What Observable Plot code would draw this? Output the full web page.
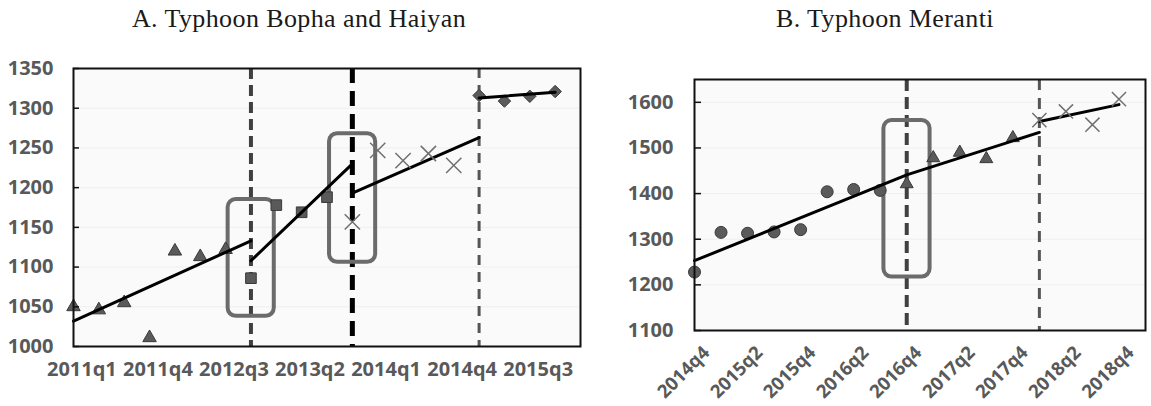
<!DOCTYPE html>
<html><head><meta charset="utf-8">
<script src="https://cdn.jsdelivr.net/npm/d3@7"></script>
<script src="https://cdn.jsdelivr.net/npm/@observablehq/plot@0.6"></script>
<style>
html,body{margin:0;padding:0;background:#fff}
body{width:1151px;height:406px;overflow:hidden;position:relative}
.title{position:absolute;top:4px;line-height:30px;font-family:"Liberation Serif","Times New Roman",serif;font-size:26px;color:#1a1a1a;text-align:center;letter-spacing:0.4px;white-space:nowrap}
#a{position:absolute;left:0;top:40px}
#b{position:absolute;left:600px;top:40px}
</style></head><body>
<div class="title" style="left:0;width:598px">A. Typhoon Bopha and Haiyan</div>
<div class="title" style="left:620px;width:530px">B. Typhoon Meranti</div>
<div id="a"></div><div id="b"></div>
<script>
// ---------- Panel A data ----------
const quartersA = ["2011q1","2011q2","2011q3","2011q4","2012q1","2012q2","2012q3","2012q4",
  "2013q1","2013q2","2013q3","2013q4","2014q1","2014q2","2014q3","2014q4",
  "2015q1","2015q2","2015q3","2015q4"];
const tickLabelsA = ["2011q1","2011q4","2012q3","2013q2","2014q1","2014q4","2015q3"];
const yTicksA = [1000,1050,1100,1150,1200,1250,1300,1350];
const triangleStartA = "2011q1", triangleA = [1050,1046,1055,1011,1120,1113,1122];
const squareStartA = "2012q4", squareA = [1086,1178,1169,1188];
const crossStartA = "2013q4", crossA = [1157,1247,1234,1243,1228];
const diamondStartA = "2015q1", diamondA = [1316,1309,1315,1321];
const fitA = [
  [["2011q1",1032],["2012q4",1133]],
  [["2012q4",1108],["2013q4",1230]],
  [["2013q4",1193],["2015q1",1263]],
  [["2015q1",1313],["2015q4",1320]]
];
const eventsA = ["2012q4","2013q4","2015q1"];
const boxesA = [{q:"2012q4", lo:1038, hi:1185},{q:"2013q4", lo:1106, hi:1268}];

// ---------- Panel B data ----------
const quartersB = ["2014q4","2015q1","2015q2","2015q3","2015q4","2016q1","2016q2","2016q3",
  "2016q4","2017q1","2017q2","2017q3","2017q4","2018q1","2018q2","2018q3","2018q4"];
const tickLabelsB = ["2014q4","2015q2","2015q4","2016q2","2016q4","2017q2","2017q4","2018q2","2018q4"];
const yTicksB = [1100,1200,1300,1400,1500,1600];
const circleStartB = "2014q4", circleB = [1228,1315,1313,1316,1321,1404,1409,1407];
const triangleStartB = "2016q4", triangleB = [1421,1478,1490,1476,1522];
const crossStartB = "2018q1", crossB = [1561,1580,1551,1607];
const fitB = [
  [["2014q4",1253],["2016q4",1441],["2018q1",1534]],
  [["2018q1",1558],["2018q4",1595]]
];
const eventsB = ["2016q4","2018q1"];
const boxesB = [{q:"2016q4", lo:1217, hi:1560}];

// ---------- helpers ----------
const series = (qs, start, vals) => vals.map((v,i) => ({x: qs.indexOf(start) + i, y: v}));
const segs = (qs, fit) => fit.flatMap((s,k) => s.map(([q,v]) => ({x: qs.indexOf(q), y: v, z: k})));
const axisText = {fontSize: 20, fontWeight: 700, fill: "#595959", fontFamily: "Open Sans, sans-serif"};
const mFill = "#5a5a5a", mStroke = "#3a3a3a";
const plain = d => String(d);

// ---------- Panel A ----------
{
  const W = 590, H = 366, mL = 73, mR = 10, mT = 28, mB = 60;
  const n = quartersA.length;
  const pxPer = (W - mL - mR) / n;
  const tickLen = 6 / pxPer;
  const shift = 0.33;
  const dash = [
    {stroke:"#404040", w:4, d:"11,6"},
    {stroke:"#000000", w:5, d:"15,8"},
    {stroke:"#555555", w:3, d:"10,7"}
  ];
  const chart = Plot.plot({
    width: W, height: H, marginLeft: mL, marginRight: mR, marginTop: mT, marginBottom: mB,
    x: {type: "linear", domain: [0, n], label: null},
    y: {domain: [1000, 1350], label: null},
    style: {background: "transparent", overflow: "visible"},
    marks: [
      Plot.frame({fill: "#fafafa", stroke: null}),
      Plot.ruleY(yTicksA, {stroke: "#efefef", strokeWidth: 1}),
      ...eventsA.map((q,i) => Plot.ruleX([quartersA.indexOf(q)], {stroke: dash[i].stroke, strokeWidth: dash[i].w, strokeDasharray: dash[i].d})),
      Plot.rect(boxesA, {x1: d => quartersA.indexOf(d.q) - 0.9, x2: d => quartersA.indexOf(d.q) + 0.92, y1: "lo", y2: "hi",
        rx: 8, fill: "none", stroke: "#6b6b6b", strokeWidth: 4}),
      Plot.dot(series(quartersA, triangleStartA, triangleA), {x: "x", y: "y", symbol: "triangle", r: 5, fill: mFill, stroke: mStroke, strokeWidth: 1}),
      Plot.dot(series(quartersA, squareStartA, squareA), {x: "x", y: "y", symbol: "square", r: 6, fill: mFill, stroke: mStroke, strokeWidth: 1}),
      Plot.dot(series(quartersA, diamondStartA, diamondA), {x: "x", y: "y", symbol: "diamond2", r: 5.6, fill: mFill, stroke: mStroke, strokeWidth: 1}),
      Plot.line(segs(quartersA, fitA), {x: "x", y: "y", z: "z", stroke: "#000", strokeWidth: 3}),
      Plot.dot(series(quartersA, crossStartA, crossA), {x: "x", y: "y", symbol: "times", r: 7, stroke: "#707070", strokeWidth: 1.5}),
      Plot.frame({stroke: "#111", strokeWidth: 2}),
      Plot.ruleY(yTicksA, {x1: 0, x2: tickLen, stroke: "#111", strokeWidth: 1.5}),
      Plot.axisY(yTicksA, {tickSize: 0, tickPadding: 20, tickFormat: plain, ...axisText}),
      Plot.axisX(tickLabelsA.map(q => quartersA.indexOf(q) + shift), {tickSize: 0, tickPadding: 15,
        tickFormat: d => quartersA[Math.round(d - shift)], ...axisText})
    ]
  });
  document.getElementById("a").append(chart);
}

// ---------- Panel B ----------
{
  const W = 551, H = 366, mL = 94, mR = 6, mT = 39, mB = 76;
  const n = quartersB.length;
  const pxPer = (W - mL - mR) / n;
  const tickLen = 7 / pxPer;
  const shift = 0.45;
  const dash = [
    {stroke:"#404040", w:4, d:"12,6"},
    {stroke:"#555555", w:3, d:"11,8"}
  ];
  const chart = Plot.plot({
    width: W, height: H, marginLeft: mL, marginRight: mR, marginTop: mT, marginBottom: mB,
    x: {type: "linear", domain: [0, n], label: null},
    y: {domain: [1100, 1650], label: null},
    style: {background: "transparent", overflow: "visible"},
    marks: [
      Plot.frame({fill: "#fafafa", stroke: null}),
      Plot.ruleY(yTicksB, {stroke: "#efefef", strokeWidth: 1}),
      ...eventsB.map((q,i) => Plot.ruleX([quartersB.indexOf(q)], {stroke: dash[i].stroke, strokeWidth: dash[i].w, strokeDasharray: dash[i].d})),
      Plot.rect(boxesB, {x1: d => quartersB.indexOf(d.q) - 0.86, x2: d => quartersB.indexOf(d.q) + 0.88, y1: "lo", y2: "hi",
        rx: 8, fill: "none", stroke: "#6b6b6b", strokeWidth: 4}),
      Plot.dot(series(quartersB, circleStartB, circleB), {x: "x", y: "y", symbol: "circle", r: 6, fill: mFill, stroke: mStroke, strokeWidth: 1}),
      Plot.dot(series(quartersB, triangleStartB, triangleB), {x: "x", y: "y", symbol: "triangle", r: 4.8, fill: mFill, stroke: mStroke, strokeWidth: 1}),
      Plot.line(segs(quartersB, fitB), {x: "x", y: "y", z: "z", stroke: "#000", strokeWidth: 3}),
      Plot.dot(series(quartersB, crossStartB, crossB), {x: "x", y: "y", symbol: "times", r: 6.5, stroke: "#707070", strokeWidth: 1.5}),
      Plot.frame({stroke: "#111", strokeWidth: 2}),
      Plot.ruleY(yTicksB, {x1: 0, x2: tickLen, stroke: "#111", strokeWidth: 1.5}),
      Plot.axisY(yTicksB, {tickSize: 0, tickPadding: 21, tickFormat: plain, ...axisText}),
      Plot.axisX(tickLabelsB.map(q => quartersB.indexOf(q) + shift), {tickSize: 0, tickPadding: 19, tickRotate: -45,
        tickFormat: d => quartersB[Math.round(d - shift)], ...axisText, fontSize: 18.5})
    ]
  });
  document.getElementById("b").append(chart);
}
</script>
</body></html>
